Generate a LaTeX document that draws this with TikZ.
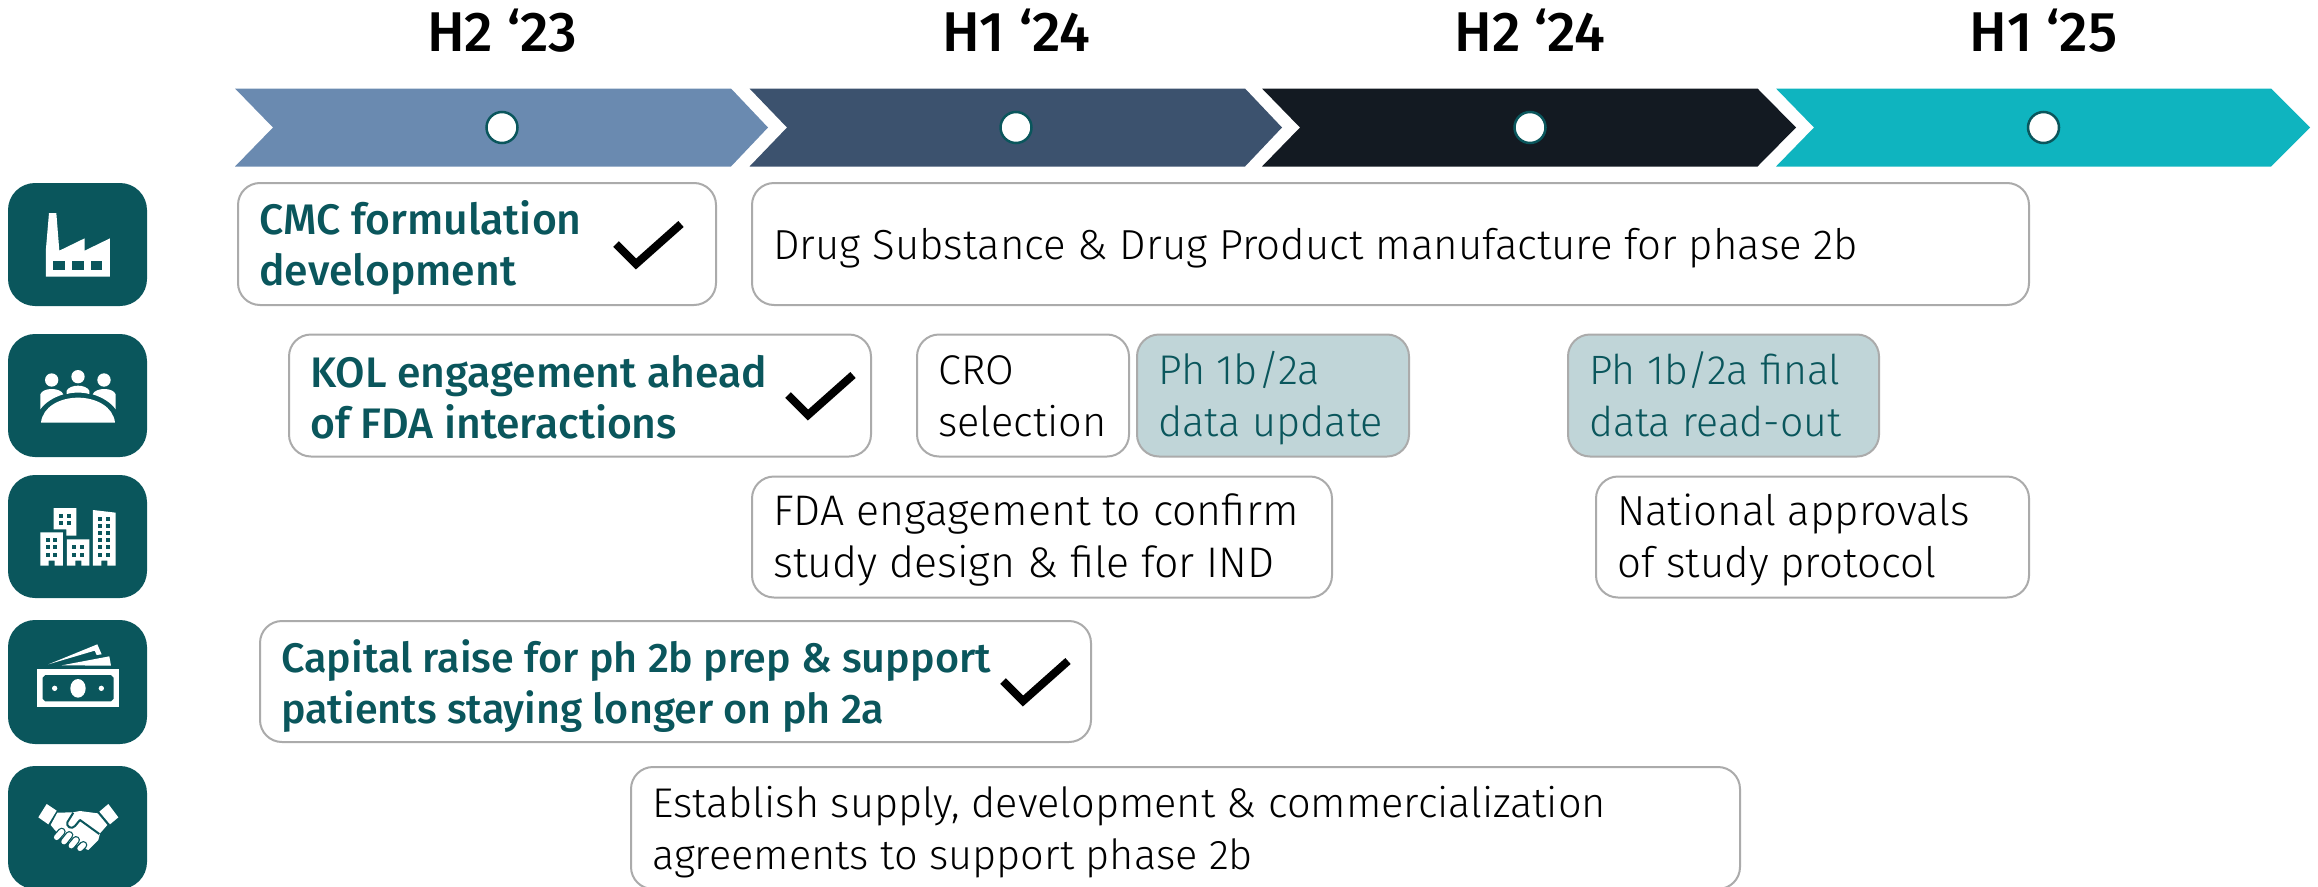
\documentclass[tikz,border=0pt]{standalone}
\usepackage{fontspec}
\setmainfont{Fira Sans Light}
\newfontfamily\medf{Fira Sans Medium}
\usetikzlibrary{positioning}
\definecolor{teal}{HTML}{0A565C}
\definecolor{bdr}{HTML}{ABABAB}
\definecolor{pale}{HTML}{C0D5D8}
\definecolor{cha}{HTML}{6A8AB0}
\definecolor{chb}{HTML}{3C526E}
\definecolor{chc}{HTML}{131A22}
\definecolor{chd}{HTML}{0FB4BF}
\newcommand{\lt}[1]{\fontsize{#1}{52}\selectfont}
\newcommand{\bt}[1]{\fontsize{#1}{51}\selectfont\medf}
\tikzset{
 boxst/.style={draw=bdr,line width=2pt,rounded corners=22pt,fill=white,inner sep=0pt,outer sep=0pt,anchor=north west},
 palebox/.style={boxst,fill=pale},
 lighttxt/.style={anchor=base west,inner sep=0pt,align=left,font=\lt{42},text=black},
 paletxt/.style={lighttxt,text=teal},
 boldtxt/.style={anchor=base west,inner sep=0pt,align=left,font=\bt{42.7},text=teal},
 headtxt/.style={anchor=base,inner sep=0pt,font=\fontsize{56}{60}\selectfont\medf,text=black},
 iconbox/.style={fill=teal,rounded corners=27pt,draw=none},
 ticks/.style={draw=black,line width=8pt,miter limit=10},
 dot/.style={circle,draw=teal,line width=2.5pt,fill=white,minimum size=31pt,inner sep=0pt},
 icon/.style={x=0.33333pt,y=-0.33333pt},
}
\begin{document}
\begin{tikzpicture}[x=1pt,y=-1pt]
\useasboundingbox (0,0) rectangle (2318,886);
% chevrons
\fill[cha] (235,88.5) -- (731,88.5) -- (768,127.5) -- (731,166.5) -- (235,166.5) -- (273,127.5) -- cycle;
\fill[chb] (749.5,88.5) -- (1245,88.5) -- (1282,127.5) -- (1245,166.5) -- (749.5,166.5) -- (787,127.5) -- cycle;
\fill[chc] (1262,88.5) -- (1757.5,88.5) -- (1796,127.5) -- (1757.5,166.5) -- (1262,166.5) -- (1300,127.5) -- cycle;
\fill[chd] (1776,88.5) -- (2271,88.5) -- (2310,127.5) -- (2271,166.5) -- (1776,166.5) -- (1814,127.5) -- cycle;
\node[dot] (d1) at (502,127.5) {};
\node[dot] (d2) at (1016,127.5) {};
\node[dot] (d3) at (1530,127.5) {};
\node[dot] (d4) at (2043.5,127.5) {};
\node[headtxt] (h1) at (502,51) {H2 ‘23};
\node[headtxt] (h2) at (1016,51) {H1 ‘24};
\node[headtxt] (h3) at (1530,51) {H2 ‘24};
\node[headtxt] (h4) at (2043.5,51) {H1 ‘25};
% icon backgrounds
\fill[iconbox] (8,183) rectangle (147,306);
\fill[iconbox] (8,334) rectangle (147,457);
\fill[iconbox] (8,475) rectangle (147,598);
\fill[iconbox] (8,620) rectangle (147,744);
\fill[iconbox] (8,766) rectangle (147,889);
% factory
\begin{scope}[shift={(0,160)},icon]
\fill[white] (147,159) -- (169,159) -- (178,272) -- (254,235) -- (254,272) -- (330,235) -- (330,350) -- (138,350) -- (138,265) -- cycle;
\fill[teal] (160,304) rectangle (195,330);
\fill[teal] (217,304) rectangle (251,330);
\fill[teal] (273,304) rectangle (307,330);
\end{scope}
% people
\begin{scope}[shift={(0,160)},icon]
\fill[white] (123,788) .. controls (128,740) and (180,713) .. (234,713) .. controls (288,713) and (340,740) .. (345,788) -- cycle;
\fill[white] (155,660) circle[radius=20pt*0.33333];
\fill[white] (234,650) circle[radius=20pt*0.33333];
\fill[white] (312,660) circle[radius=20pt*0.33333];
\fill[white] (121,748) -- (121,703) .. controls (125,692) and (140,687) .. (155,687) .. controls (170,687) and (186,692) .. (190,703) .. controls (160,712) and (135,728) .. (121,748) -- cycle;
\fill[white] (347,748) -- (347,703) .. controls (343,692) and (328,687) .. (313,687) .. controls (298,687) and (282,692) .. (278,703) .. controls (308,712) and (333,728) .. (347,748) -- cycle;
\fill[white] (200,702) -- (200,692) .. controls (205,682) and (220,677) .. (234,677) .. controls (248,677) and (263,682) .. (268,692) -- (268,702) .. controls (245,696) and (223,696) .. (200,702) -- cycle;
\end{scope}
% buildings
\begin{scope}[shift={(8,470)},icon]
\fill[white] (137,114) -- (205,114) -- (205,197) -- (175,197) -- (175,178) -- (137,178) -- cycle;
\fill[white] (97,187) -- (165,187) -- (165,287) -- (140,287) -- (140,272) -- (122,272) -- (122,287) -- (97,287) -- cycle;
\fill[white] (177,208) -- (244,208) -- (244,287) -- (220,287) -- (220,272) -- (202,272) -- (202,287) -- (177,287) -- cycle;
\fill[white] (255,120) -- (323,128) -- (323,287) -- (298,287) -- (298,272) -- (280,272) -- (280,287) -- (255,287) -- cycle;
\foreach \c in {154,177} \foreach \r in {131,153} \fill[teal] (\c,\r) rectangle +(12,12);
\foreach \c in {113,136} \foreach \r in {204,226,248} \fill[teal] (\c,\r) rectangle +(12,12);
\foreach \c in {192,215} \foreach \r in {226,248} \fill[teal] (\c,\r) rectangle +(12,12);
\foreach \c in {271,294} \foreach \r in {140,161,182,204,226,248} \fill[teal] (\c,\r) rectangle +(12,12);
\end{scope}
% money
\begin{scope}[shift={(0,600)},icon]
\fill[white] (110,208) rectangle (358,321);
\fill[teal] (136,225) -- (333,225) -- (341,233) -- (341,296) -- (333,304) -- (136,304) -- (128,296) -- (128,233) -- cycle;
\fill[white] (234,265) ellipse[x radius=23pt*0.33333,y radius=28pt*0.33333];
\fill[white] (164,265) circle[radius=8pt*0.33333];
\fill[white] (304,265) circle[radius=8pt*0.33333];
\fill[white] (145,193) -- (292,133) -- (305,163) -- (290,165) -- (284,152) -- cycle;
\fill[white] (185,196) -- (328,169) -- (333,197) -- cycle;
\end{scope}
% handshake
\begin{scope}[shift={(30,780)},icon]
\fill[white] (50,72) -- (80,92) -- (55,133) -- (25,112) -- cycle;
\fill[white] (235,72) -- (265,112) -- (240,133) -- (208,95) -- cycle;
\fill[white] (82,98) -- (128,97) -- (150,93) -- (203,100) -- (232,135) -- (210,160) -- (205,180) -- (175,210) -- (100,180) -- (62,135) -- cycle;
\foreach \a/\b/\c/\d in {150/205/160/195, 124/197/138/180, 102/185/118/165, 80/172/95/155}
  {\draw[teal,line width=8pt,line cap=round] (\a,\b) -- (\c,\d);}
\foreach \a/\b/\c/\d in {150/205/160/195, 124/197/138/180, 102/185/118/165, 80/172/95/155}
  {\draw[white,line width=5.4pt,line cap=round] (\a,\b) -- (\c,\d);}
\draw[teal,line width=2pt,line join=round] (130,98) -- (112,127) .. controls (108,140) and (125,150) .. (135,138) -- (150,120) -- (208,162);
\end{scope}
% boxes
\node[boxst,minimum width=478pt,minimum height=122pt] (cmc) at (238,183) {};
\node[boxst,minimum width=1277pt,minimum height=122pt] (drug) at (752,183) {};
\node[boxst,minimum width=582pt,minimum height=122pt] (kol) at (289,334.5) {};
\node[boxst,minimum width=212pt,minimum height=122pt] (cro) at (917,334.5) {};
\node[palebox,minimum width=272pt,minimum height=122pt] (upd) at (1137,334.5) {};
\node[palebox,minimum width=311pt,minimum height=122pt] (fin) at (1568,334.5) {};
\node[boxst,minimum width=580pt,minimum height=121pt] (fda) at (752,476.5) {};
\node[boxst,minimum width=433pt,minimum height=121pt] (nat) at (1596,476.5) {};
\node[boxst,minimum width=831pt,minimum height=121pt] (cap) at (260,621) {};
\node[boxst,minimum width=1109pt,minimum height=122pt] (est) at (631,767) {};
% ticks
\coordinate (ca) at (616,244); \coordinate (cb) at (636,264); \coordinate (cc) at (681,224);
\draw[ticks] (ca) -- (cb) -- (cc);
\coordinate (ka) at (788,395); \coordinate (kb) at (808,415); \coordinate (kc) at (853,375);
\draw[ticks] (ka) -- (kb) -- (kc);
\coordinate (ra) at (1003,681); \coordinate (rb) at (1023,701); \coordinate (rc) at (1068,661);
\draw[ticks] (ra) -- (rb) -- (rc);
% text
\node[boldtxt] (tcmc) at (259,285.5) {CMC formulation\\development};
\node[lighttxt] (tdrug) at (773,259) {Drug Substance \& Drug Product manufacture for phase 2b};
\node[boldtxt] (tkol) at (310,438) {KOL engagement ahead\\of FDA interactions};
\node[lighttxt,font=\lt{41.5}] (tcro) at (938,436) {CRO\\selection};
\node[paletxt,font=\lt{41.5}] (tupd) at (1158,436) {Ph 1b/2a\\data update};
\node[paletxt,font=\lt{41}] (tfin) at (1589,436) {Ph 1b/2a final\\data read-out};
\node[lighttxt,font=\lt{42.8}] (tfda) at (773,577) {FDA engagement to confirm\\study design \& file for IND};
\node[lighttxt] (tnat) at (1617,577) {National approvals\\of study protocol};
\node[boldtxt,font=\bt{41.3}] (tcap) at (281,723.5) {Capital raise for ph 2b prep \& support\\patients staying longer on ph 2a};
\node[lighttxt,font=\lt{41.5}] (test) at (652,869) {Establish supply, development \& commercialization\\agreements to support phase 2b};
\end{tikzpicture}
\end{document}
